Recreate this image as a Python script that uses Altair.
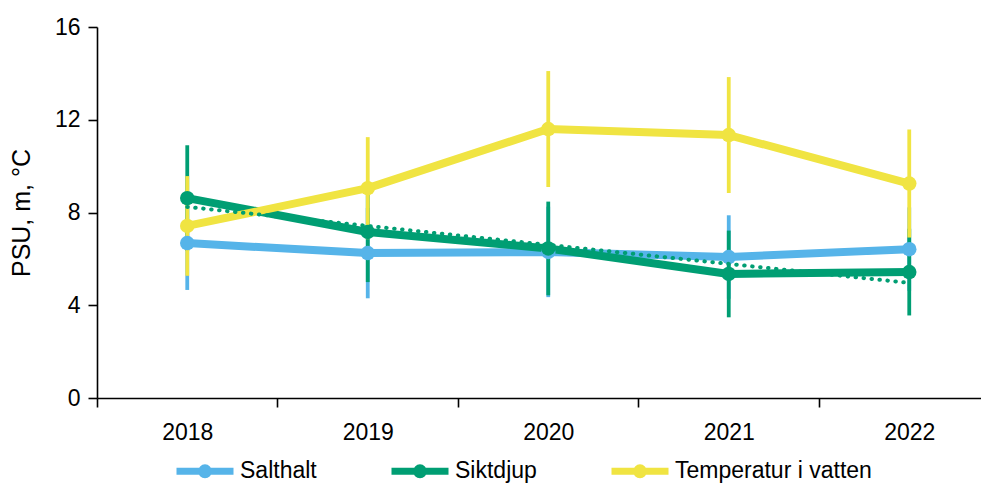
import altair as alt
import pandas as pd

years = [2018, 2019, 2020, 2021, 2022]
series_names = ["Salthalt", "Siktdjup", "Temperatur i vatten"]
colors = ["#56B4E9", "#009E73", "#F0E442"]

salthalt = [6.68, 6.25, 6.30, 6.08, 6.42]
salthalt_err = [2.02, 1.95, 1.95, 1.80, 1.80]
siktdjup = [8.62, 7.16, 6.45, 5.35, 5.43]
siktdjup_err = [2.28, 2.16, 2.02, 1.87, 1.87]
temperatur = [7.42, 9.05, 11.60, 11.34, 9.25]
temperatur_err = [2.15, 2.20, 2.50, 2.50, 2.33]

rows = []
for name, vals, errs in [
    ("Salthalt", salthalt, salthalt_err),
    ("Siktdjup", siktdjup, siktdjup_err),
    ("Temperatur i vatten", temperatur, temperatur_err),
]:
    for y, v, e in zip(years, vals, errs):
        rows.append({"year": y, "series": name, "value": v, "lo": v - e, "hi": v + e})
df = pd.DataFrame(rows)

FONT = "Liberation Sans"
FS = 23

PLOT_W = 884
STEP = 180.5
xscale = alt.Scale(domain=[2017.5, 2017.5 + PLOT_W / STEP], nice=False, zero=False)
yscale = alt.Scale(domain=[0, 16], nice=False)
cscale = alt.Scale(domain=series_names, range=colors)

legend_path = "M-1,0L1,0M0.12,0A0.12,0.12 0 1,1 -0.12,0A0.12,0.12 0 1,1 0.12,0"
legend = alt.Legend(
    title=None,
    orient="none",
    legendX=76,
    legendY=412,
    direction="horizontal",
    symbolType=legend_path,
    symbolSize=3249,
    symbolStrokeWidth=7,
    symbolOpacity=1,
    labelFont=FONT,
    labelFontSize=FS,
    labelColor="#000000",
    labelOffset=3,
    labelLimit=400,
    columnPadding=60,
    padding=0,
)
color_enc = alt.Color("series:N", scale=cscale, legend=legend)

x_enc = alt.X(
    "year:Q",
    scale=xscale,
    axis=alt.Axis(
        values=years,
        format="d",
        title=None,
        tickOffset=-STEP / 2,
        labelOffset=STEP / 2,
        tickSize=9,
        labelPadding=14,
        grid=False,
    ),
)
y_enc = alt.Y(
    "value:Q",
    scale=yscale,
    axis=alt.Axis(
        values=[0, 4, 8, 12, 16],
        title="PSU, m, °C",
        tickSize=9,
        labelPadding=8,
        titlePadding=20,
        grid=False,
    ),
)

base = alt.Chart(df)

errbars = base.mark_rule(strokeWidth=3.8).encode(
    x=x_enc,
    y=alt.Y("lo:Q", scale=yscale),
    y2="hi:Q",
    color=color_enc,
)

lines = base.mark_line(strokeWidth=8, strokeJoin="round").encode(
    x=x_enc,
    y=y_enc,
    color=color_enc,
)

points = base.mark_circle(size=210, opacity=1).encode(
    x=x_enc,
    y=y_enc,
    color=color_enc,
)

trend = (
    base.transform_filter(alt.datum.series == "Siktdjup")
    .transform_regression("year", "value")
    .mark_line(color=colors[1], strokeWidth=4, strokeDash=[0.5, 7.5], strokeCap="round")
    .encode(x=x_enc, y=y_enc)
)

chart = (
    alt.layer(errbars, lines, points, trend)
    .properties(
        width=PLOT_W,
        height=371,
        autosize=alt.AutoSizeParams(type="none"),
        padding={"left": 89, "top": 19, "right": 0, "bottom": 85},
    )
    .configure_view(stroke=None)
    .configure_axis(
        labelFont=FONT,
        labelFontSize=FS,
        labelColor="#000000",
        titleFont=FONT,
        titleFontSize=25,
        titleFontWeight="normal",
        titleColor="#000000",
        domainColor="#000000",
        domainWidth=1.6,
        tickColor="#000000",
        tickWidth=1.6,
    )
)

chart.save("out.html", embed_options={"renderer": "svg", "actions": False})
